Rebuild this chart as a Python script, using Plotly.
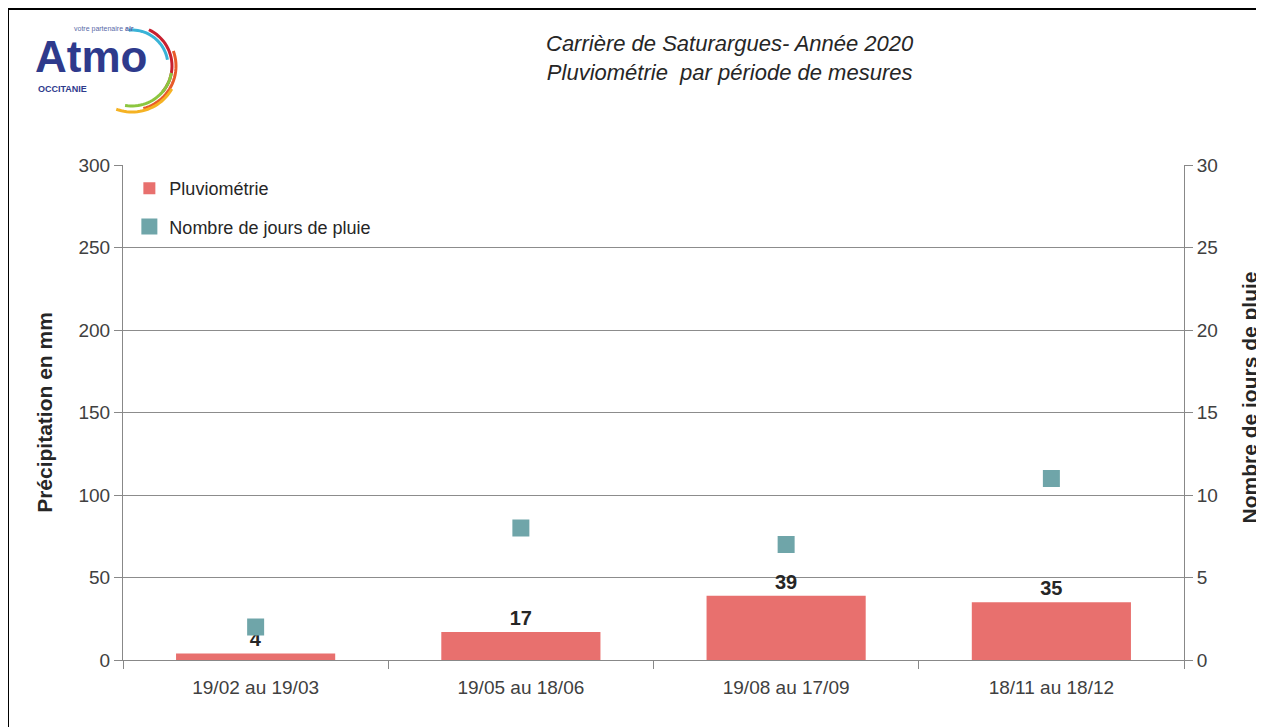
import math
import plotly.graph_objects as go

categories = ["19/02 au 19/03", "19/05 au 18/06", "19/08 au 17/09", "18/11 au 18/12"]
pluviometrie = [4, 17, 39, 35]
jours_pluie = [2, 8, 7, 11]
y1_ticks = [0, 50, 100, 150, 200, 250, 300]
y2_ticks = [0, 5, 10, 15, 20, 25, 30]

FONT = "Liberation Sans, Arial"
BAR_COLOR = "#e8706e"
MARK_COLOR = "#6fa5a9"

W, H = 1256, 719
ML, MR, MT, MB = 115, 80, 157, 67
PW, PH = W - ML - MR, H - MT - MB


def px(page_x):
    return (page_x - 8 - ML) / PW


def py(page_y):
    return (H - MB - (page_y - 8)) / PH


fig = go.Figure()
fig.add_trace(go.Bar(
    x=categories, y=pluviometrie, name="Pluviométrie", legendgroup="a",
    marker=dict(color=BAR_COLOR, line=dict(width=0)),
    width=0.6,
    text=[str(v) for v in pluviometrie], textposition="outside",
    textfont=dict(family=FONT, size=20, color="#262626"),
    texttemplate="<b>%{text}</b>", cliponaxis=False,
))
fig.add_trace(go.Scatter(
    x=categories, y=jours_pluie, name="Nombre de jours de pluie", legendgroup="b",
    mode="markers", yaxis="y2",
    marker=dict(symbol="square", size=17, color=MARK_COLOR),
))

fig.update_layout(
    width=W, height=H,
    margin=dict(l=ML, r=MR, t=MT, b=MB),
    paper_bgcolor="white", plot_bgcolor="white",
    font=dict(family=FONT, size=17, color="#404040"),
    showlegend=True,
    legend=dict(x=0.006, y=0.99, xanchor="left", yanchor="top",
                bgcolor="rgba(0,0,0,0)", font=dict(size=18, color="#262626"),
                itemsizing="trace", tracegroupgap=12),
    bargap=0.4,
    xaxis=dict(type="category", showgrid=False, showline=True, linecolor="#888",
               ticks="outside", tickson="boundaries", ticklen=8, tickcolor="#888",
               ticklabelstandoff=10,
               tickfont=dict(size=19, color="#404040")),
    yaxis=dict(range=[0, 300], tickvals=y1_ticks, showgrid=True, gridcolor="#8c8c8c",
               gridwidth=1, showline=True, linecolor="#888", ticks="outside",
               ticklen=8, tickcolor="#888", zeroline=False,
               tickfont=dict(size=19, color="#404040"),
               title=dict(text="<b>Précipitation en mm</b>", font=dict(size=21, color="#262626"),
                          standoff=20)),
    yaxis2=dict(range=[0, 30], tickvals=y2_ticks, overlaying="y", side="right",
                showgrid=False, showline=True, linecolor="#888", ticks="outside",
                ticklen=8, tickcolor="#888", zeroline=False,
                tickfont=dict(size=19, color="#404040")),
)

# Right axis title (placed like the original, partly cut by the edge)
fig.add_annotation(text="<b>Nombre de jours de pluie</b>", xref="paper", yref="paper",
                   x=px(1262), y=py(398), textangle=-90, showarrow=False,
                   font=dict(family=FONT, size=21, color="#262626"))

# Title
fig.add_annotation(text="<i>Carrière de Saturargues- Année 2020<br>Pluviométrie  par période de mesures</i>",
                   xref="paper", yref="paper", x=px(730), y=py(58), yanchor="middle",
                   showarrow=False, align="center",
                   font=dict(family=FONT, size=22, color="#262626"))

# Outer frame (left and top edges visible in the original)
fig.add_shape(type="line", xref="paper", yref="paper", x0=px(8), x1=px(8), y0=py(760), y1=py(9),
              line=dict(color="black", width=2))
fig.add_shape(type="line", xref="paper", yref="paper", x0=px(8), x1=px(1300), y0=py(9), y1=py(9),
              line=dict(color="black", width=2))

# Logo
fig.add_annotation(text="<b>Atmo</b>", xref="paper", yref="paper", x=px(33), y=py(57),
                   xanchor="left", yanchor="middle", showarrow=False,
                   font=dict(family=FONT, size=44, color="#2e3a8c"))
fig.add_annotation(text="<b>OCCITANIE</b>", xref="paper", yref="paper", x=px(36), y=py(89),
                   xanchor="left", yanchor="middle", showarrow=False,
                   font=dict(family=FONT, size=9, color="#2e3a8c"))
fig.add_annotation(text="votre partenaire <b>air</b>", xref="paper", yref="paper", x=px(72), y=py(29),
                   xanchor="left", yanchor="middle", showarrow=False,
                   font=dict(family=FONT, size=7, color="#5a6aa8"))

cx, cy = 132, 66
arcs = [("#39b3d7", 36, -95, -10), ("#c8202f", 40, -65, 40), ("#e85a2a", 44, -20, 75),
        ("#8cc63f", 40, 10, 100), ("#f5b223", 46, 30, 110)]
for color, r, a0, a1 in arcs:
    pts = []
    n = 24
    for k in range(n + 1):
        a = math.radians(a0 + (a1 - a0) * k / n)
        pts.append((px(cx + r * math.cos(a)), py(cy + r * math.sin(a))))
    path = "M " + " L ".join(f"{x:.5f},{y:.5f}" for x, y in pts)
    fig.add_shape(type="path", xref="paper", yref="paper", path=path,
                  line=dict(color=color, width=3))

fig.write_html("out.html")
